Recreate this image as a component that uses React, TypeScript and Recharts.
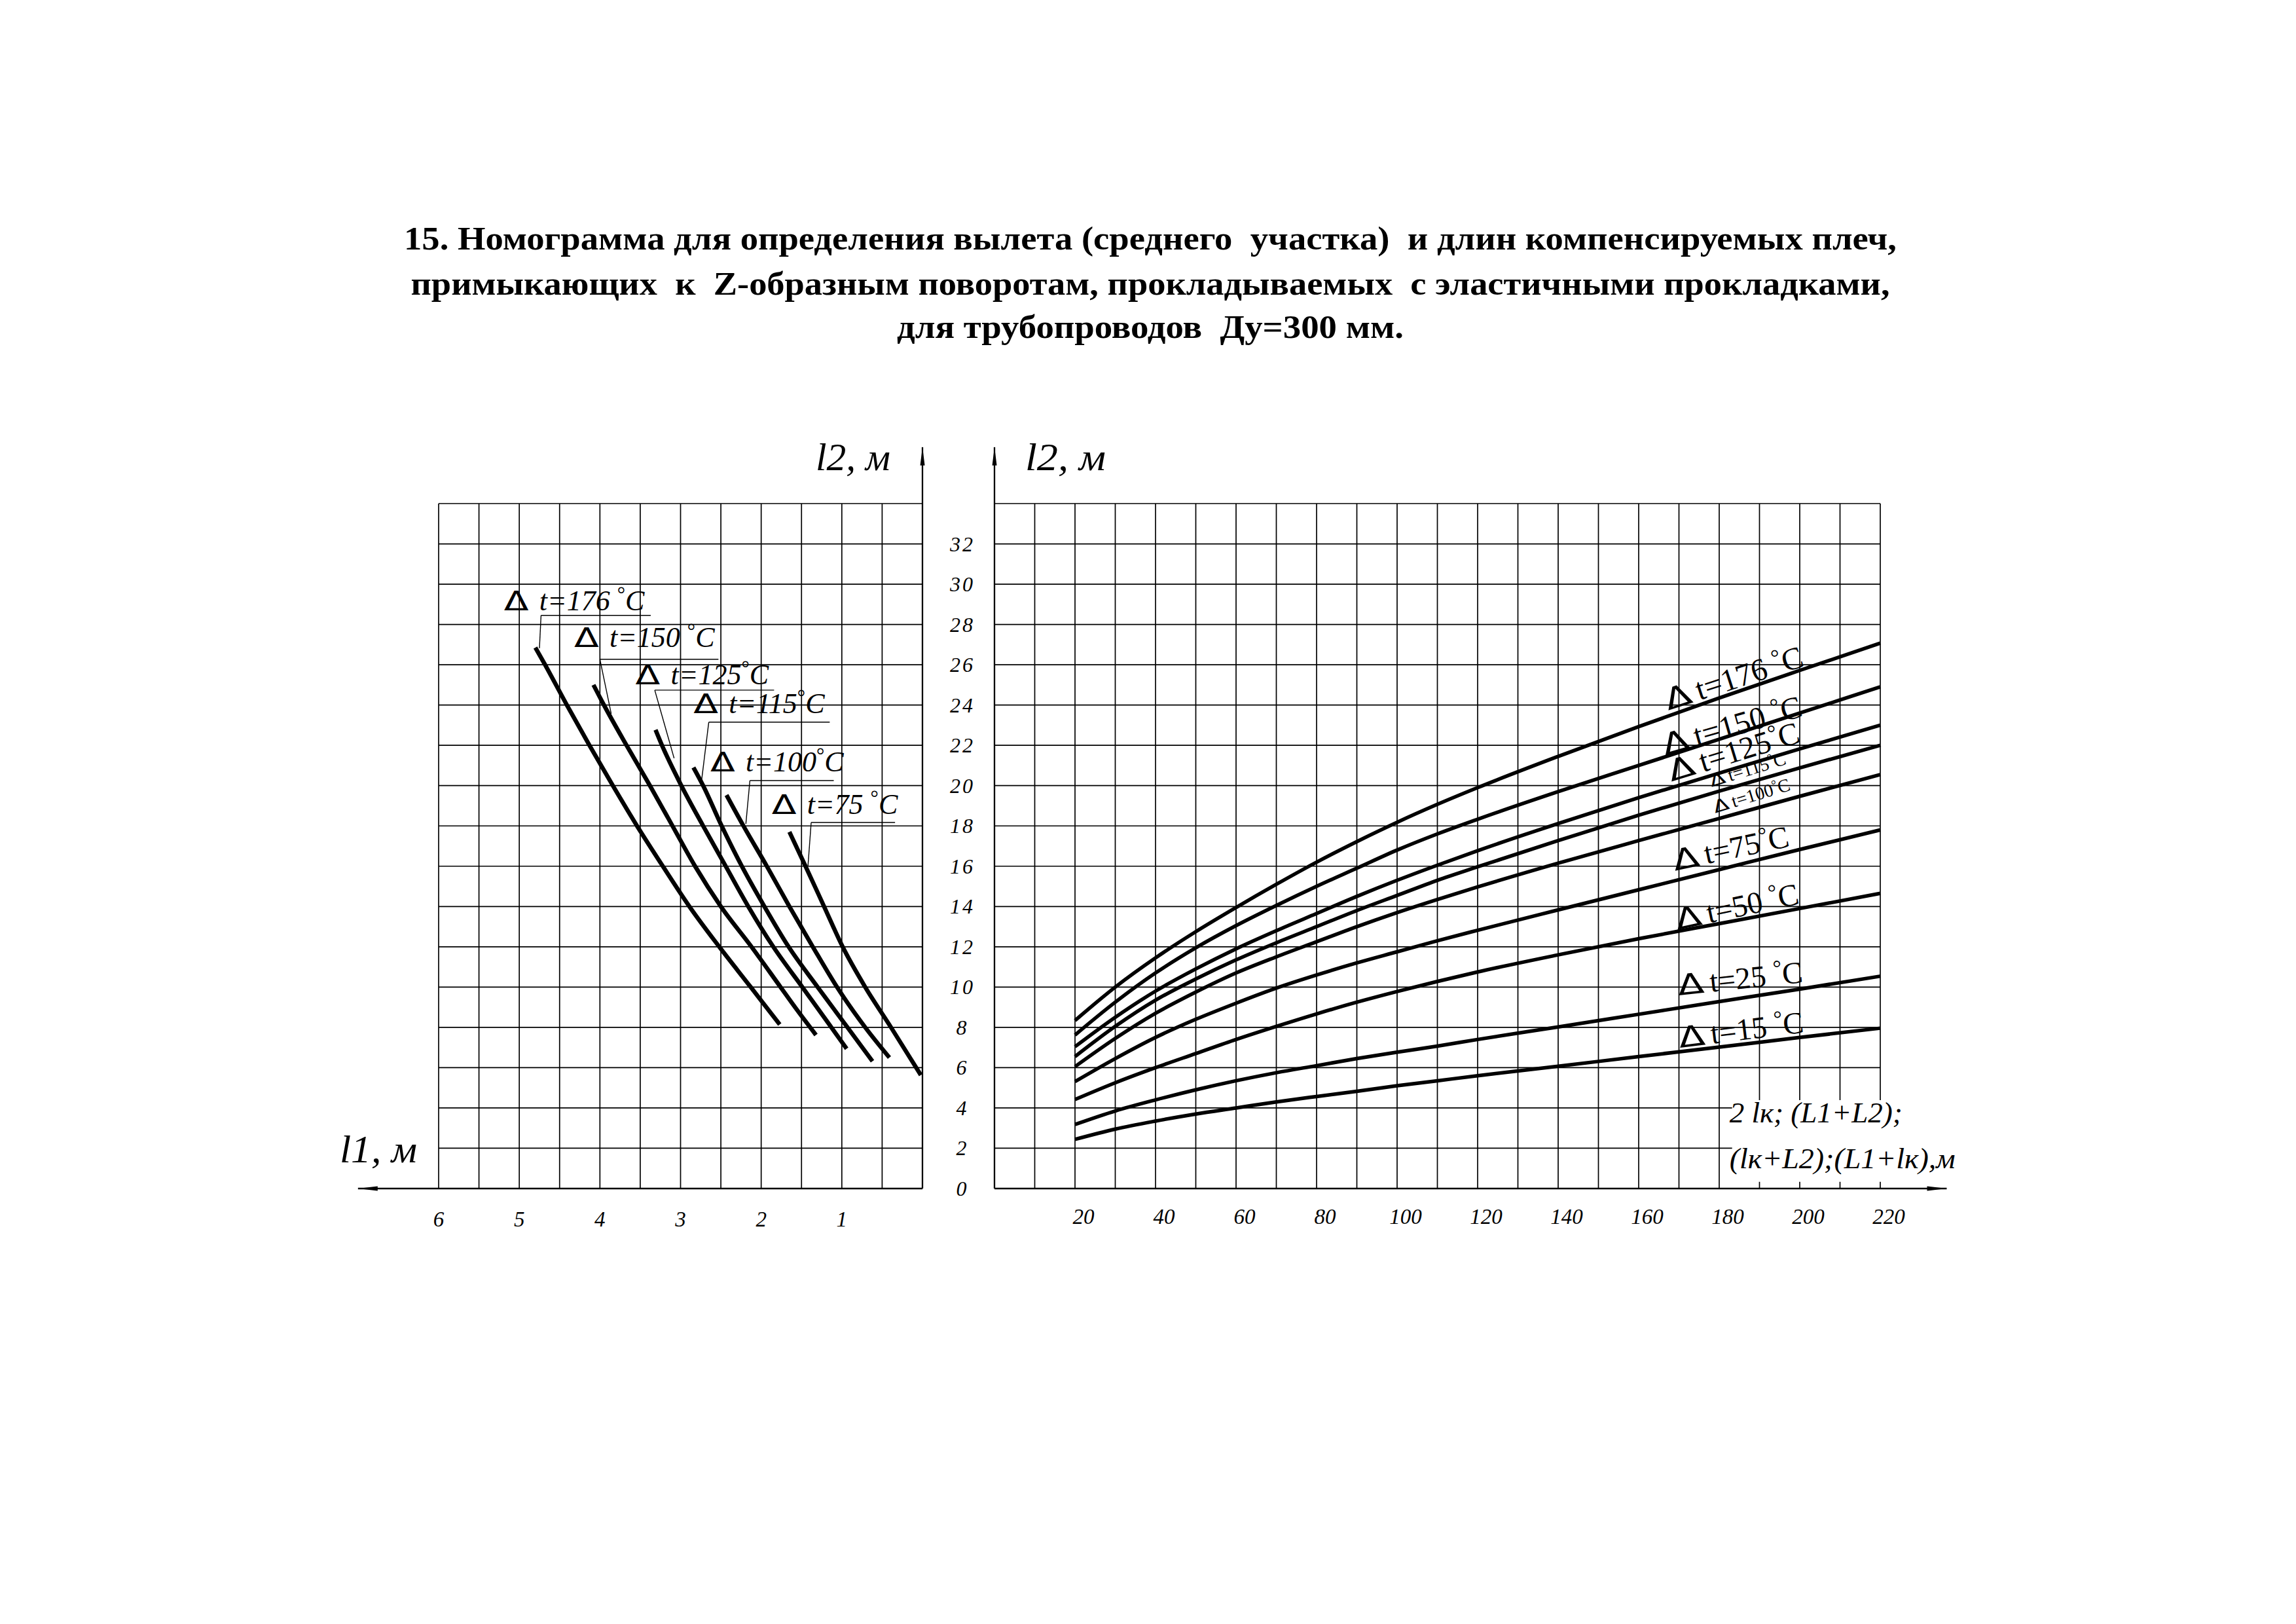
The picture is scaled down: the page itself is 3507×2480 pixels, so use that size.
import React from 'react';
import {
  LineChart,
  Line,
  XAxis,
  YAxis,
  CartesianGrid,
  ReferenceLine,
  ReferenceDot,
  ReferenceArea,
} from 'recharts';

const SERIF = '"Liberation Serif", "Times New Roman", serif';
const SANS = '"DejaVu Sans", sans-serif';

// ---------- texts ----------
const titleLines = [
  '15. Номограмма для определения вылета (среднего  участка)  и длин компенсируемых плеч,',
  'примыкающих  к  Z-образным поворотам, прокладываемых  с эластичными прокладками,',
  'для трубопроводов  Ду=300 мм.',
];
const axisL2Title = 'l2, м';
const axisL1Title = 'l1, м';
const axisLengthTitle1 = '2 lк; (L1+L2);';
const axisLengthTitle2 = '(lк+L2);(L1+lк),м';

// ---------- ticks ----------
const l2Ticks = [0, 2, 4, 6, 8, 10, 12, 14, 16, 18, 20, 22, 24, 26, 28, 30, 32, 34];
const l2Labels = [0, 2, 4, 6, 8, 10, 12, 14, 16, 18, 20, 22, 24, 26, 28, 30, 32];
const l1Ticks = [0, 0.5, 1, 1.5, 2, 2.5, 3, 3.5, 4, 4.5, 5, 5.5, 6];
const l1Labels = [1, 2, 3, 4, 5, 6];
const lengthTicks = [0, 10, 20, 30, 40, 50, 60, 70, 80, 90, 100, 110, 120, 130, 140, 150, 160, 170, 180, 190, 200, 210, 220];
const lengthLabels = [20, 40, 60, 80, 100, 120, 140, 160, 180, 200, 220];

// ---------- right chart: l2 vs length ----------
const rightX = [20, 30, 40, 50, 60, 70, 80, 90, 100, 110, 120, 140, 160, 180, 200, 220];
const right176 = [8.34, 10.0, 11.45, 12.75, 13.95, 15.1, 16.2, 17.22, 18.18, 19.07, 19.9, 21.45, 22.93, 24.35, 25.72, 27.07];
const right150 = [7.62, 9.25, 10.7, 11.95, 13.05, 14.05, 15.0, 15.9, 16.8, 17.6, 18.33, 19.7, 21.0, 22.3, 23.6, 24.9];
const right125 = [7.04, 8.5, 9.8, 10.9, 11.9, 12.8, 13.65, 14.5, 15.3, 16.05, 16.77, 18.12, 19.4, 20.62, 21.82, 23.0];
const right115 = [6.55, 8.05, 9.35, 10.4, 11.35, 12.2, 13.0, 13.8, 14.55, 15.3, 15.97, 17.27, 18.53, 19.73, 20.88, 22.0];
const right100 = [6.05, 7.45, 8.7, 9.75, 10.7, 11.5, 12.25, 13.0, 13.7, 14.35, 14.97, 16.15, 17.27, 18.37, 19.47, 20.55];
const right75 = [5.31, 6.45, 7.5, 8.4, 9.2, 9.95, 10.6, 11.2, 11.75, 12.3, 12.82, 13.83, 14.83, 15.83, 16.83, 17.8];
const right50 = [4.42, 5.25, 6.0, 6.7, 7.4, 8.05, 8.67, 9.25, 9.78, 10.28, 10.75, 11.6, 12.4, 13.15, 13.9, 14.65];
const right25 = [3.18, 3.85, 4.4, 4.9, 5.35, 5.75, 6.1, 6.45, 6.77, 7.07, 7.4, 8.02, 8.65, 9.28, 9.9, 10.54];
const right15 = [2.44, 2.95, 3.35, 3.7, 4.0, 4.3, 4.57, 4.83, 5.1, 5.35, 5.6, 6.07, 6.55, 7.02, 7.5, 7.96];

const rightSeriesKeys = ['t176', 't150', 't125', 't115', 't100', 't75', 't50', 't25', 't15'];
const rightSeriesValues = [right176, right150, right125, right115, right100, right75, right50, right25, right15];

// right curve labels (anchor on the curve, in data units)
const rightLabelText = ['t=176 °C', 't=150 °C', 't=125°C', 't=115°C', 't=100°C', 't=75°C', 't=50 °C', 't=25 °C', 't=15 °C'];
const rightLabelX = [167.3, 166.6, 168.1, 178.1, 179.0, 169.0, 169.6, 169.9, 170.2];
const rightLabelY = [23.73, 21.49, 20.19, 19.93, 18.63, 15.77, 12.84, 9.59, 6.99];
const rightLabelAngle = [18, 16, 17, 17, 17, 12, 12, 6, 7];
const rightLabelSize = [48, 48, 48, 28, 28, 47, 47, 47, 47];

// ---------- left chart: l2 vs l1 ----------
const left176 = [[1.77, 8.14], [2.13, 10], [2.52, 12], [2.89, 14], [3.22, 16], [3.54, 18], [3.84, 20], [4.13, 22], [4.41, 24], [4.68, 26], [4.8, 26.85]];
const left150 = [[1.32, 7.62], [1.58, 9], [1.76, 10], [2.12, 12], [2.5, 14], [2.82, 16], [3.1, 18], [3.38, 20], [3.67, 22], [3.95, 24], [4.08, 25]];
const left125 = [[0.94, 6.94], [1.13, 8], [1.49, 10], [1.85, 12], [2.16, 14], [2.44, 16], [2.72, 18], [2.99, 20], [3.23, 22], [3.31, 22.77]];
const left115 = [[0.62, 6.32], [0.93, 8], [1.3, 10], [1.66, 12], [1.96, 14], [2.24, 16], [2.49, 18], [2.72, 20], [2.84, 20.9]];
const left100 = [[0.41, 6.5], [0.71, 8], [1.06, 10], [1.36, 12], [1.65, 14], [1.93, 16], [2.22, 18], [2.43, 19.53]];
const left75 = [[0.02, 5.63], [0.39, 8], [0.71, 10], [0.99, 12], [1.22, 14], [1.45, 16], [1.65, 17.7]];

const leftSeries = [left176, left150, left125, left115, left100, left75];

// left curve labels
const leftLabelText = ['t=176 °C', 't=150 °C', 't=125°C', 't=115°C', 't=100°C', 't=75 °C'];
const leftLabelL1 = [5.19, 4.32, 3.56, 2.84, 2.63, 1.87];
const leftLabelL2 = [28.7, 26.89, 25.04, 23.6, 20.71, 18.6];
const leftUnderFromL1 = [4.73, 4.0, 3.32, 2.65, 2.14, 1.38];
const leftUnderToL1 = [3.37, 2.53, 1.84, 1.15, 1.1, 0.34];
const leftUnderL2 = [28.45, 26.27, 24.74, 23.15, 20.25, 18.17];
const leftLeaderEndL1 = [4.75, 3.86, 3.08, 2.74, 2.19, 1.42];
const leftLeaderEndL2 = [26.82, 23.57, 21.36, 20.22, 18.1, 16.0];

// axis extents (arrow tips) in data units
const l2ArrowTip = 36.8;
const l1ArrowTip = 7.0;
const lengthArrowTip = 236.5;
const lengthTitleBox = [183.2, 238, 0.33, 4.39];

// ---------- derived tables ----------
const rightData = rightX.map((x, i) => {
  const row: Record<string, number> = { x };
  rightSeriesKeys.forEach((k, j) => {
    row[k] = rightSeriesValues[j][i];
  });
  return row;
});
const leftData = leftSeries.map((s) => s.map(([l1, l2]) => ({ l1, l2 })));

// ---------- small components ----------
function TempLabel(props: any) {
  const { cx = 0, cy = 0, text, size, angle, italic, gap } = props;
  const [before, after] = String(text).split('°');
  return (
    <g transform={`translate(${cx},${cy}) rotate(${-angle})`}>
      <text x={0} y={0} transform="scale(1.35,1)" fontFamily={SANS} fontSize={size * 0.93} fill="#000">
        Δ
      </text>
      <text
        x={gap}
        y={0}
        fontFamily={SERIF}
        fontSize={size}
        fontStyle={italic ? 'italic' : 'normal'}
        fill="#000"
        style={{ whiteSpace: 'pre' }}
      >
        {before}
        <tspan fontSize={size * 0.7} dy={-size * 0.32} fontStyle="normal">
          °
        </tspan>
        <tspan dy={size * 0.32}>{after}</tspan>
      </text>
    </g>
  );
}

const ArrowUp = (p: any) => (
  <polygon points={`${p.cx},${p.cy} ${p.cx - 3.5},${p.cy + 28} ${p.cx + 3.5},${p.cy + 28}`} fill="#000" />
);
const ArrowLeft = (p: any) => (
  <polygon points={`${p.cx},${p.cy} ${p.cx + 30},${p.cy - 3.5} ${p.cx + 30},${p.cy + 3.5}`} fill="#000" />
);
const ArrowRight = (p: any) => (
  <polygon points={`${p.cx},${p.cy} ${p.cx - 30},${p.cy - 3.5} ${p.cx - 30},${p.cy + 3.5}`} fill="#000" />
);

const EmptyTick = () => <g />;

const LeftXTick = (p: any) => {
  const v = p.payload.value;
  if (!l1Labels.includes(v)) return <g />;
  return (
    <text x={p.x} y={p.y + 58} textAnchor="middle" fontFamily={SERIF} fontStyle="italic" fontSize={33} fill="#000">
      {v}
    </text>
  );
};

const RightXTick = (p: any) => {
  const v = p.payload.value;
  if (!lengthLabels.includes(v)) return <g />;
  return (
    <text x={p.x + 13} y={p.y + 54} textAnchor="middle" fontFamily={SERIF} fontStyle="italic" fontSize={33} fill="#000">
      {v}
    </text>
  );
};

const MiddleYTick = (p: any) => {
  const v = p.payload.value;
  if (!l2Labels.includes(v)) return <g />;
  return (
    <text
      x={p.x}
      y={p.y}
      dy={11}
      textAnchor="middle"
      fontFamily={SERIF}
      fontStyle="italic"
      fontSize={32}
      letterSpacing={3}
      fill="#000"
    >
      {v}
    </text>
  );
};

const LengthTitle = (p: any) => {
  const vb = p.viewBox || { x: 0, y: 0 };
  return (
    <g>
      <text x={vb.x - 4} y={vb.y + 34} fontFamily={SERIF} fontStyle="italic" fontSize={44} fill="#000" textLength={264} lengthAdjust="spacingAndGlyphs">
        {axisLengthTitle1}
      </text>
      <text x={vb.x - 4} y={vb.y + 104} fontFamily={SERIF} fontStyle="italic" fontSize={44} fill="#000" textLength={345} lengthAdjust="spacingAndGlyphs">
        {axisLengthTitle2}
      </text>
    </g>
  );
};

const GRID = { stroke: '#000', strokeWidth: 1.7 };
const AXIS = { stroke: '#000', strokeWidth: 2.3 };

export default function App() {
  return (
    <div style={{ position: 'absolute', left: 0, top: 0, width: 3507, height: 2480, background: '#fff', overflow: 'hidden' }}>
      {/* left chart */}
      <div style={{ position: 'absolute', left: 470, top: 600 }}>
        <LineChart width={1000} height={1350} margin={{ top: 169, right: 60, bottom: 134, left: 200 }}>
          <CartesianGrid stroke={GRID.stroke} strokeWidth={GRID.strokeWidth} fill="none" />
          <XAxis
            dataKey="l1"
            type="number"
            domain={[0, 6]}
            reversed
            ticks={l1Ticks}
            interval={0}
            height={1}
            tickSize={0}
            tickMargin={0}
            tickLine={false}
            axisLine={AXIS}
            tick={LeftXTick}
          />
          <YAxis
            orientation="right"
            type="number"
            domain={[0, 34]}
            ticks={l2Ticks}
            interval={0}
            width={1}
            tickSize={0}
            tickMargin={0}
            tick={EmptyTick}
            tickLine={false}
            axisLine={AXIS}
          />
          {leftData.map((d, i) => (
            <Line
              key={`l${i}`}
              data={d}
              dataKey="l2"
              type="monotone"
              stroke="#000"
              strokeWidth={6.5}
              dot={false}
              activeDot={false}
              isAnimationActive={false}
            />
          ))}
          {/* axis extensions with arrows */}
          <ReferenceLine segment={[{ x: 6, y: 0 }, { x: l1ArrowTip, y: 0 }]} stroke="#000" strokeWidth={2.3} ifOverflow="visible" />
          <ReferenceDot x={l1ArrowTip} y={0} r={0} ifOverflow="visible" shape={ArrowLeft} />
          <ReferenceLine segment={[{ x: 0, y: 34 }, { x: 0, y: l2ArrowTip }]} stroke="#000" strokeWidth={2.3} ifOverflow="visible" />
          <ReferenceDot x={0} y={l2ArrowTip} r={0} ifOverflow="visible" shape={ArrowUp} />
          {/* labels with leaders */}
          {leftLabelText.map((t, i) => (
            <ReferenceLine
              key={`u${i}`}
              segment={[{ x: leftUnderFromL1[i], y: leftUnderL2[i] }, { x: leftUnderToL1[i], y: leftUnderL2[i] }]}
              stroke="#000"
              strokeWidth={1.4}
              ifOverflow="visible"
            />
          ))}
          {leftLabelText.map((t, i) => (
            <ReferenceLine
              key={`d${i}`}
              segment={[{ x: leftUnderFromL1[i], y: leftUnderL2[i] }, { x: leftLeaderEndL1[i], y: leftLeaderEndL2[i] }]}
              stroke="#000"
              strokeWidth={1.4}
              ifOverflow="visible"
            />
          ))}
          {leftLabelText.map((t, i) => (
            <ReferenceDot
              key={`t${i}`}
              x={leftLabelL1[i]}
              y={leftLabelL2[i]}
              r={0}
              ifOverflow="visible"
              shape={(p: any) => <TempLabel {...p} text={t} size={44} angle={0} italic gap={54} />}
            />
          ))}
        </LineChart>
      </div>

      {/* right chart */}
      <div style={{ position: 'absolute', left: 1380, top: 600 }}>
        <LineChart width={1700} height={1350} data={rightData} margin={{ top: 169, right: 208, bottom: 134, left: 138 }}>
          <CartesianGrid stroke={GRID.stroke} strokeWidth={GRID.strokeWidth} fill="none" />
          <XAxis
            dataKey="x"
            type="number"
            domain={[0, 220]}
            ticks={lengthTicks}
            interval={0}
            height={1}
            tickSize={0}
            tickMargin={0}
            tickLine={false}
            axisLine={AXIS}
            tick={RightXTick}
          />
          <YAxis
            type="number"
            domain={[0, 34]}
            ticks={l2Ticks}
            interval={0}
            width={1}
            tickSize={0}
            tickMargin={49}
            tickLine={false}
            axisLine={AXIS}
            tick={MiddleYTick}
          />
          <ReferenceArea
            x1={lengthTitleBox[0]}
            x2={lengthTitleBox[1]}
            y1={lengthTitleBox[2]}
            y2={lengthTitleBox[3]}
            fill="#fff"
            fillOpacity={1}
            stroke="none"
            ifOverflow="visible"
            label={(p: any) => <LengthTitle {...p} />}
          />
          {rightSeriesKeys.map((k) => (
            <Line
              key={k}
              dataKey={k}
              type="monotone"
              stroke="#000"
              strokeWidth={5.5}
              dot={false}
              activeDot={false}
              isAnimationActive={false}
            />
          ))}
          <ReferenceLine segment={[{ x: 220, y: 0 }, { x: lengthArrowTip, y: 0 }]} stroke="#000" strokeWidth={2.3} ifOverflow="visible" />
          <ReferenceDot x={lengthArrowTip} y={0} r={0} ifOverflow="visible" shape={ArrowRight} />
          <ReferenceLine segment={[{ x: 0, y: 34 }, { x: 0, y: l2ArrowTip }]} stroke="#000" strokeWidth={2.3} ifOverflow="visible" />
          <ReferenceDot x={0} y={l2ArrowTip} r={0} ifOverflow="visible" shape={ArrowUp} />
          {rightLabelText.map((t, i) => (
            <ReferenceDot
              key={`rt${i}`}
              x={rightLabelX[i]}
              y={rightLabelY[i]}
              r={0}
              ifOverflow="visible"
              shape={(p: any) => (
                <TempLabel
                  {...p}
                  text={t}
                  size={rightLabelSize[i]}
                  angle={rightLabelAngle[i]}
                  italic={false}
                  gap={rightLabelSize[i] * 1.05}
                />
              )}
            />
          ))}
        </LineChart>
      </div>

      {/* page texts */}
      <svg width={3507} height={2480} style={{ position: 'absolute', left: 0, top: 0, pointerEvents: 'none' }}>
        {titleLines.map((t, i) => (
          <text
            key={i}
            x={1757}
            y={[381, 450, 516][i]}
            textAnchor="middle"
            fontFamily={SERIF}
            fontWeight="bold"
            fontSize={51}
            fill="#000"
            textLength={[2280, 2259, 774][i]}
            lengthAdjust="spacingAndGlyphs"
            style={{ whiteSpace: 'pre' }}
          >
            {t}
          </text>
        ))}
        <text x={1246} y={718} fontFamily={SERIF} fontStyle="italic" fontSize={60} fill="#000" textLength={114} lengthAdjust="spacingAndGlyphs">
          {axisL2Title}
        </text>
        <text x={1566} y={718} fontFamily={SERIF} fontStyle="italic" fontSize={60} fill="#000" textLength={123} lengthAdjust="spacingAndGlyphs">
          {axisL2Title}
        </text>
        <text x={519} y={1775} fontFamily={SERIF} fontStyle="italic" fontSize={60} fill="#000" textLength={118} lengthAdjust="spacingAndGlyphs">
          {axisL1Title}
        </text>
      </svg>
    </div>
  );
}
